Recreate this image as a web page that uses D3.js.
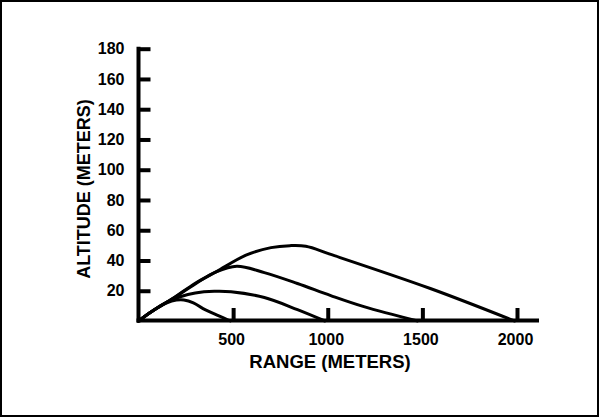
<!DOCTYPE html>
<html>
<head>
<meta charset="utf-8">
<script src="https://cdn.jsdelivr.net/npm/d3@7"></script>
<style>
  html, body { margin: 0; padding: 0; background: #fff; }
  svg { display: block; }
  text { font-family: "Liberation Sans", Arial, Helvetica, sans-serif; font-weight: bold; fill: #000; }
</style>
</head>
<body>
<script>
// Data: trajectories as [range (m), altitude (m)]
const traj500  = [[0,0],[70,6.3],[150,12],[200,13.8],[240,13.9],[290,12],[341,8.2],[428,3.2],[485,0]];
const traj1000 = [[0,0],[70,6.3],[150,12.5],[220,16],[300,18.5],[400,19.6],[489,19.3],[665,15.5],[840,7.5],[985,0]];
const traj1500 = [[0,0],[70,6.3],[183,15],[300,24.5],[410,32.5],[520,36.2],[665,32],[840,24.8],[1016,16.8],[1191,9.5],[1475,0]];
const traj2000 = [[0,0],[70,6.3],[183,15],[300,25],[410,32.5],[568,43.5],[700,48.5],[800,49.8],[884,49.4],[1016,44],[1542,21.5],[1988,0]];
const xTicks = [500, 1000, 1500, 2000];
const yTicks = [20, 40, 60, 80, 100, 120, 140, 160, 180];
const xLabel = "RANGE (METERS)";
const yLabel = "ALTITUDE (METERS)";

const W = 599, H = 417;
const svg = d3.select("body").append("svg").attr("width", W).attr("height", H);

svg.append("rect").attr("x", 1).attr("y", 1).attr("width", W - 2).attr("height", H - 2)
  .attr("fill", "#fff").attr("stroke", "#000").attr("stroke-width", 2);

const x = d3.scaleLinear().domain([0, 2000]).range([138.5, 517]);
const y = d3.scaleLinear().domain([0, 180]).range([321, 48.7]);
const xMax = x.invert(539);

// Y axis
const gy = svg.append("g").attr("transform", `translate(${x(0)},0)`)
  .call(d3.axisLeft(y).tickValues(yTicks).tickFormat(d3.format("d")).tickSize(-12).tickSizeOuter(0).tickPadding(14));
gy.select(".domain").remove();
gy.selectAll(".tick line").attr("stroke", "#000").attr("stroke-width", 4);
gy.selectAll(".tick text").style("font-size", "16px").attr("fill", "#000");

// X axis
const gx = svg.append("g").attr("transform", `translate(0,${y(0)})`)
  .call(d3.axisBottom(x).tickValues(xTicks).tickFormat(d3.format("d")).tickSize(-13).tickSizeOuter(0).tickPadding(13));
gx.select(".domain").remove();
gx.selectAll(".tick line").attr("stroke", "#000").attr("stroke-width", 4);
gx.selectAll(".tick text").style("font-size", "16px").attr("fill", "#000").attr("dx", -2);

// Axis lines
svg.append("line").attr("x1", x(0)).attr("x2", x(0)).attr("y1", y(0) + 1.5).attr("y2", y(180) - 2)
  .attr("stroke", "#000").attr("stroke-width", 4);
svg.append("line").attr("x1", x(0) - 2).attr("x2", x(xMax)).attr("y1", y(0) - 0.5).attr("y2", y(0) - 0.5)
  .attr("stroke", "#000").attr("stroke-width", 4);

// Trajectories
const line = d3.line().x(d => x(d[0])).y(d => y(d[1])).curve(d3.curveCatmullRom.alpha(0.5));
[traj500, traj1000, traj1500, traj2000].forEach(t => {
  svg.append("path").datum(t).attr("d", line)
    .attr("fill", "none").attr("stroke", "#000").attr("stroke-width", 3)
    .attr("stroke-linejoin", "round").attr("stroke-linecap", "round");
});

// Axis titles
svg.append("text").attr("x", 330).attr("y", 368).attr("text-anchor", "middle")
  .style("font-size", "18.5px").text(xLabel);
svg.append("text").attr("transform", "translate(90,189) rotate(-90)").attr("text-anchor", "middle")
  .style("font-size", "18px").text(yLabel);
</script>
</body>
</html>
